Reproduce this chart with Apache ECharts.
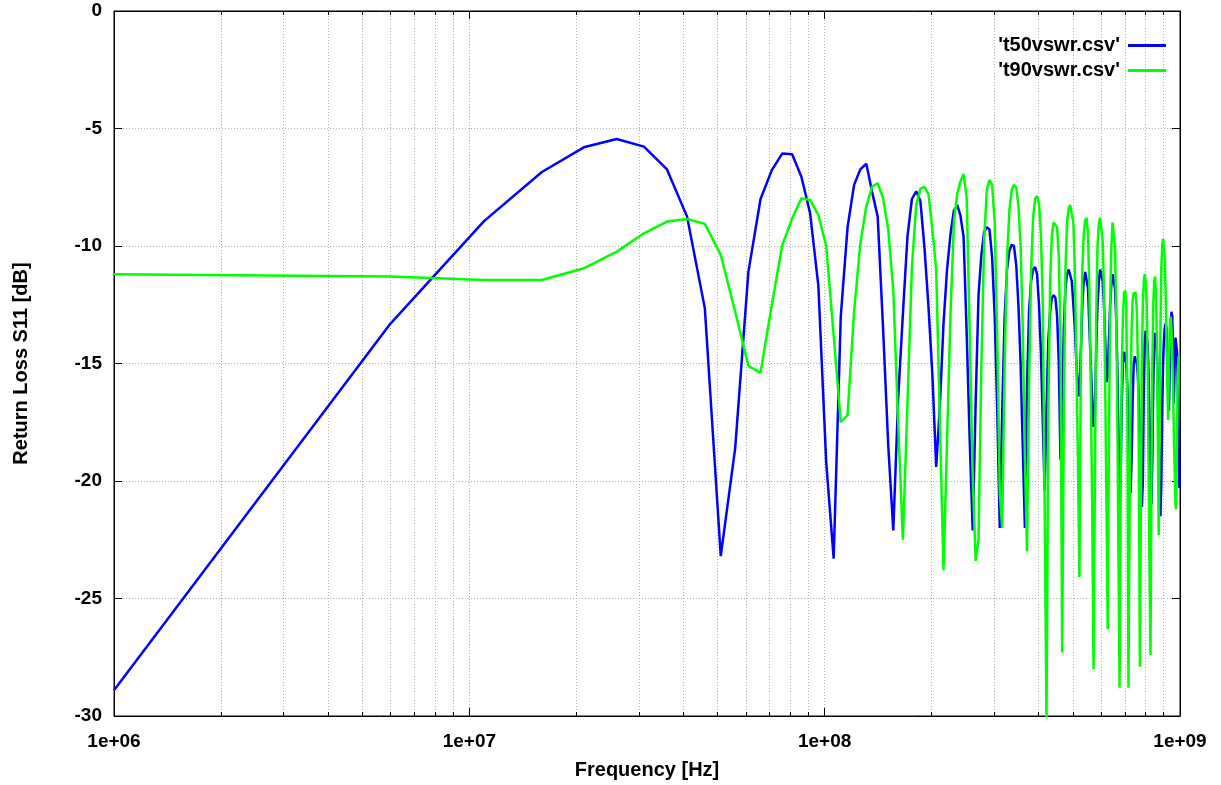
<!DOCTYPE html>
<html><head><meta charset="utf-8">
<script src="https://cdn.jsdelivr.net/npm/echarts@6/dist/echarts.min.js"></script>
<style>html,body{margin:0;padding:0;background:#fff}#c{width:1221px;height:785px}</style>
</head><body><div id="c"></div>
<script>
// Sample frequencies in MHz
const freqMHz = [
  1,6,11,16,21,26,31,36,41,46,
  51,56,61,66,71,76,81,86,91,96,
  101,106,111,116,121,126,131,136,141,146,
  151,156,161,166,171,176,181,186,191,196,
  201,206,211,216,221,226,231,236,241,246,
  251,256,261,266,271,276,281,286,291,296,
  301,306,311,316,321,326,331,336,341,346,
  351,356,361,366,371,376,381,386,391,396,
  401,406,411,416,421,426,431,436,441,446,
  451,456,461,466,471,476,481,486,491,496,
  501,506,511,516,521,526,531,536,541,546,
  551,556,561,566,571,576,581,586,591,596,
  601,606,611,616,621,626,631,636,641,646,
  651,656,661,666,671,676,681,686,691,696,
  701,706,711,716,721,726,731,736,741,746,
  751,756,761,766,771,776,781,786,791,796,
  801,806,811,816,821,826,831,836,841,846,
  851,856,861,866,871,876,881,886,891,896,
  901,906,911,916,921,926,931,936,941,946,
  951,956,961,966,971,976,981,986,991,996
];
// 't50vswr.csv' return loss [dB]
const t50 = [
  -28.9,-13.3,-8.94,-6.85,-5.8,-5.45,-5.77,-6.74,-8.75,-12.65,
  -23.2,-18.6,-11.1,-8.0,-6.77,-6.06,-6.1,-7.05,-8.6,-11.7,
  -19.2,-23.3,-13.0,-9.2,-7.4,-6.74,-6.5,-7.7,-8.75,-13.5,
  -18.5,-22.1,-16.5,-12.9,-9.6,-8.0,-7.67,-8.1,-10.1,-12.6,
  -15.5,-19.4,-16.8,-13.3,-11.0,-9.5,-8.5,-8.25,-8.7,-9.6,
  -13.7,-18.3,-22.1,-16.7,-12.1,-10.4,-9.4,-9.2,-9.3,-10.5,
  -13.0,-17.0,-22.0,-17.0,-13.0,-11.0,-10.2,-9.95,-10.0,-10.8,
  -12.5,-15.0,-18.5,-22.0,-16.0,-12.8,-11.5,-11.0,-10.9,-11.2,
  -12.5,-14.5,-17.5,-20.4,-17.0,-14.0,-12.8,-12.2,-12.1,-12.2,
  -13.0,-15.0,-19.1,-17.5,-13.5,-11.8,-11.2,-11.0,-11.0,-11.5,
  -12.5,-13.5,-15.0,-16.0,-16.4,-14.5,-12.5,-11.5,-11.1,-11.1,
  -11.8,-13.5,-15.0,-16.5,-17.7,-17.0,-14.5,-12.5,-11.5,-11.0,
  -11.0,-11.5,-12.5,-14.0,-15.8,-15.5,-14.0,-12.5,-11.6,-11.2,
  -11.2,-11.8,-13.0,-15.0,-18.0,-21.0,-19.5,-16.5,-15.0,-14.5,
  -14.5,-15.0,-16.0,-17.5,-19.0,-20.5,-19.0,-16.5,-15.0,-14.7,
  -14.7,-15.0,-15.5,-16.5,-18.0,-19.5,-21.1,-20.0,-16.0,-14.0,
  -13.6,-13.6,-14.2,-15.5,-17.5,-19.5,-21.0,-19.0,-16.0,-14.2,
  -13.7,-13.8,-14.5,-16.0,-18.0,-20.0,-21.5,-20.0,-17.0,-15.0,
  -14.0,-13.5,-13.3,-13.5,-14.5,-16.0,-17.0,-15.0,-13.5,-12.8,
  -13.0,-14.5,-16.7,-15.0,-13.9,-13.9,-14.5,-16.0,-18.0,-20.3
];
// 't90vswr.csv' return loss [dB]
const t90 = [
  -11.2,-11.3,-11.45,-11.45,-10.95,-10.24,-9.46,-8.96,-8.85,-9.06,
  -10.38,-12.8,-15.1,-15.4,-12.5,-9.96,-8.83,-7.97,-8.04,-8.68,
  -10.0,-13.8,-17.5,-17.2,-12.8,-9.9,-8.3,-7.47,-7.33,-7.97,
  -9.3,-11.9,-17.5,-22.5,-16.7,-10.9,-8.26,-7.56,-7.48,-7.8,
  -9.3,-11.0,-17.5,-23.8,-18.3,-12.9,-9.0,-7.8,-7.25,-6.94,
  -7.95,-13.7,-19.8,-23.4,-22.5,-15.2,-9.8,-7.6,-7.18,-7.4,
  -9.0,-14.0,-20.5,-22.0,-15.0,-10.5,-8.5,-7.6,-7.4,-7.5,
  -8.3,-10.0,-13.5,-19.0,-23.0,-16.0,-11.0,-8.8,-8.0,-7.87,
  -8.2,-9.5,-12.5,-21.0,-30.2,-17.0,-11.5,-9.5,-9.0,-8.95,
  -9.2,-10.5,-14.0,-27.3,-17.0,-11.0,-9.0,-8.4,-8.26,-8.3,
  -9.0,-11.0,-15.0,-19.0,-24.1,-15.0,-11.0,-9.5,-8.9,-8.8,
  -9.5,-12.0,-16.0,-21.0,-28.0,-20.0,-13.0,-10.0,-9.0,-8.8,
  -8.8,-9.8,-12.0,-16.0,-21.0,-26.3,-18.0,-12.5,-10.0,-9.0,
  -9.0,-10.0,-12.5,-17.0,-23.0,-28.8,-20.0,-15.0,-13.0,-12.0,
  -11.9,-12.5,-17.0,-28.8,-22.0,-16.0,-13.5,-12.3,-12.0,-12.0,
  -12.0,-12.8,-15.0,-19.0,-27.9,-21.0,-15.0,-12.5,-11.5,-11.2,
  -11.5,-12.5,-15.0,-19.5,-24.0,-27.4,-20.0,-15.0,-12.5,-11.5,
  -11.3,-12.0,-14.0,-18.0,-22.3,-18.0,-13.5,-11.0,-10.0,-9.7,
  -9.7,-10.5,-12.0,-14.0,-16.0,-17.4,-15.0,-13.5,-13.0,-13.5,
  -14.5,-16.0,-18.0,-19.5,-21.0,-21.2,-18.0,-15.5,-14.7,-14.7
];
const seriesNames = ["'t50vswr.csv'", "'t90vswr.csv'"];
const xTickLabels = ['1e+06', '1e+07', '1e+08', '1e+09'];
const decadeStarts = [1e6, 1e7, 1e8];
const minorMultipliers = [2, 3, 4, 5, 6, 7, 8, 9];
const xMin = 1e6, xMax = 1e9, yMin = -30, yMax = 0, yStep = 5;

const minorValues = [];
decadeStarts.forEach(d => minorMultipliers.forEach(m => minorValues.push(d * m)));

const FONT = 'Liberation Sans, Arial, sans-serif';
const gridStyle = { color: '#b0b0b0', width: 1, type: [1, 2] };
const minorTickLen = 4 * (yMax - yMin) / 705; // ~4 px in data units

const toPairs = (vals) => freqMHz.map((f, i) => [f * 1e6, vals[i]]);

const chart = echarts.init(document.getElementById('c'), null, { renderer: 'canvas' });
chart.setOption({
  animation: false,
  backgroundColor: '#fff',
  grid: { left: 114, right: 41, top: 11, bottom: 69, outerBoundsMode: 'none', containLabel: false,
    show: true, borderColor: '#000', borderWidth: 1, backgroundColor: 'transparent' },
  legend: {
    data: seriesNames,
    orient: 'vertical', align: 'right',
    right: 50, top: 30,
    itemWidth: 38, itemHeight: 3, itemGap: 4,
    icon: 'rect',
    textStyle: { fontFamily: FONT, fontSize: 20, fontWeight: 'bold', color: '#000', lineHeight: 21, padding: [0, 3, 0, 0] }
  },
  xAxis: [{
    type: 'log', logBase: 10, min: xMin, max: xMax, position: 'bottom',
    name: 'Frequency [Hz]', nameLocation: 'middle', nameGap: 44,
    nameTextStyle: { fontFamily: FONT, fontSize: 20, fontWeight: 'bold', color: '#000' },
    axisLine: { show: true, onZero: false, lineStyle: { color: '#000', width: 1 } },
    axisTick: { show: true, inside: true, length: 8, lineStyle: { color: '#000' } },
    axisLabel: { fontFamily: FONT, fontSize: 19, fontWeight: 'bold', color: '#000', margin: 16,
      formatter: v => xTickLabels[Math.round(Math.log10(v)) - 6] },
    splitLine: { show: true, lineStyle: gridStyle }
  }, {
    type: 'log', logBase: 10, min: xMin, max: xMax, position: 'top',
    axisLine: { show: true, onZero: false, lineStyle: { color: '#000', width: 1 } },
    axisTick: { show: true, inside: true, length: 8, lineStyle: { color: '#000' } },
    axisLabel: { show: false }, splitLine: { show: false }
  }],
  yAxis: [{
    type: 'value', min: yMin, max: yMax, interval: yStep, position: 'left',
    name: 'Return Loss S11 [dB]', nameLocation: 'middle', nameGap: 83, nameRotate: 90,
    nameTextStyle: { fontFamily: FONT, fontSize: 20, fontWeight: 'bold', color: '#000' },
    axisLine: { show: true, onZero: false, lineStyle: { color: '#000', width: 1 } },
    axisTick: { show: true, inside: true, length: 8, lineStyle: { color: '#000' } },
    axisLabel: { fontFamily: FONT, fontSize: 19, fontWeight: 'bold', color: '#000', margin: 12 },
    splitLine: { show: true, lineStyle: gridStyle }
  }, {
    type: 'value', min: yMin, max: yMax, interval: yStep, position: 'right',
    axisLine: { show: true, onZero: false, lineStyle: { color: '#000', width: 1 } },
    axisTick: { show: true, inside: true, length: 8, lineStyle: { color: '#000' } },
    axisLabel: { show: false }, splitLine: { show: false }
  }],
  series: [
    {
      name: 'minorGrid', type: 'line', data: [], silent: true, z: 1,
      markLine: {
        silent: true, z: 1, symbol: ['none', 'none'], animation: false,
        label: { show: false }, lineStyle: gridStyle,
        data: minorValues.map(v => ({ xAxis: v }))
      }
    },
    {
      name: 'minorTicks', type: 'line', data: [], silent: true, z: 6,
      markLine: {
        silent: true, z: 6, symbol: ['none', 'none'], animation: false,
        label: { show: false }, lineStyle: { color: '#000', width: 1, type: 'solid' },
        data: minorValues.map(v => [{ coord: [v, yMin] }, { coord: [v, yMin + minorTickLen] }])
          .concat(minorValues.map(v => [{ coord: [v, yMax] }, { coord: [v, yMax - minorTickLen] }]))
      }
    },
    {
      name: seriesNames[0], type: 'line', data: toPairs(t50), showSymbol: false, symbol: 'none',
      lineStyle: { color: '#0000ff', width: 2.5 }, itemStyle: { color: '#0000ff' }, z: 3, clip: true
    },
    {
      name: seriesNames[1], type: 'line', data: toPairs(t90), showSymbol: false, symbol: 'none',
      lineStyle: { color: '#00ff00', width: 2.5 }, itemStyle: { color: '#00ff00' }, z: 4, clip: true
    }
  ]
});
</script>
</body></html>
